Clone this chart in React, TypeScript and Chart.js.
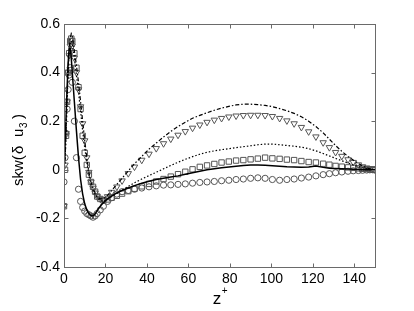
import React, { useEffect, useRef } from "react";
import { Chart } from "chart.js/auto";

const Z = [0, 0.5, 1, 1.5, 2, 2.5, 3, 3.5, 4, 5, 6, 7, 8, 9, 10, 11, 12, 13, 14, 15, 16, 17.5, 19, 21, 23, 25.5, 28, 31, 34, 37.5, 41, 44.5, 48, 51.5, 55, 58.5, 62, 65.5, 69, 72.5, 76, 79.5, 83, 86.5, 90, 93.5, 97, 100.5, 104, 107.5, 111, 114.5, 118, 121.5, 125, 128, 131, 134, 137, 139.5, 142, 144, 146, 147.5, 149, 150];

const solidLine = [0, 0.1, 0.22, 0.34, 0.44, 0.5, 0.5, 0.46, 0.4,
  0.28, 0.16, 0.05, -0.04, -0.1, -0.14, -0.165, -0.18, -0.188, -0.19, -0.182, -0.168,
  -0.15, -0.135,
  -0.12, -0.108, -0.095, -0.085, -0.075, -0.065, -0.055,
  -0.047, -0.04, -0.035, -0.03, -0.025, -0.018, -0.012, -0.006, 0.0, 0.004, 0.008, 0.012, 0.015, 0.018, 0.02, 0.02, 0.019, 0.017, 0.015, 0.013, 0.012, 0.01, 0.012, 0.016, 0.01,
  0.006, 0.005, 0.004, 0.003, 0.002, 0.001, 0, 0, 0, 0, 0];

const dashDotLine = [0, 0.03, 0.16, 0.3, 0.42, 0.5, 0.54, 0.56, 0.55,
  0.49, 0.43, 0.36, 0.28, 0.2, 0.12, 0.05, -0.01, -0.05, -0.075, -0.095, -0.11,
  -0.12, -0.12,
  -0.105, -0.085, -0.06, -0.035, -0.005, 0.025, 0.055,
  0.085, 0.11, 0.135, 0.158, 0.178, 0.196, 0.212, 0.224, 0.235, 0.245, 0.254, 0.261, 0.267, 0.27, 0.27, 0.268, 0.265, 0.26, 0.252, 0.243, 0.232, 0.218, 0.2, 0.178, 0.152,
  0.126, 0.1, 0.076, 0.055, 0.04, 0.026, 0.016, 0.008, 0.004, 0.001, 0];

const dottedLine = [0, 0.03, 0.15, 0.28, 0.4, 0.48, 0.52, 0.53, 0.52,
  0.46, 0.39, 0.32, 0.24, 0.16, 0.09, 0.03, -0.02, -0.06, -0.085, -0.1, -0.115,
  -0.125, -0.13,
  -0.12, -0.11, -0.097, -0.083, -0.068, -0.053, -0.038,
  -0.024, -0.01, 0.004, 0.018, 0.031, 0.043, 0.054, 0.064, 0.072, 0.078, 0.083, 0.087, 0.091, 0.095, 0.099, 0.103, 0.106, 0.106, 0.103, 0.1, 0.097, 0.093, 0.087, 0.078, 0.067,
  0.057, 0.047, 0.037, 0.028, 0.02, 0.013, 0.008, 0.005, 0.003, 0.001, 0];

const triangles = [-0.15, 0.02, 0.15, 0.28, 0.4, 0.47, 0.51, 0.52, 0.51,
  0.46, 0.4, 0.33, 0.26, 0.19, 0.12, 0.05, -0.01, -0.05, -0.075, -0.095, -0.11,
  -0.12, -0.125,
  -0.11, -0.092, -0.07, -0.045, -0.015, 0.012, 0.04,
  0.065, 0.088, 0.108, 0.127, 0.143, 0.158, 0.172, 0.185, 0.196, 0.205, 0.212, 0.218, 0.222, 0.224, 0.225, 0.225, 0.224, 0.22, 0.212, 0.202, 0.19, 0.175, 0.157, 0.136, 0.112,
  0.092, 0.072, 0.056, 0.042, 0.031, 0.021, 0.013, 0.008, 0.004, 0.002, 0];

const squares = [-0.15, 0.0, 0.14, 0.28, 0.4, 0.48, 0.53, 0.54, 0.53,
  0.48, 0.42, 0.34, 0.25, 0.14, 0.07, 0.02, -0.02, -0.05, -0.07, -0.09, -0.11,
  -0.12, -0.125,
  -0.122, -0.115, -0.107, -0.098, -0.088, -0.078, -0.068,
  -0.058, -0.048, -0.038, -0.028, -0.018, -0.008, 0.002, 0.012, 0.018, 0.024, 0.03, 0.034, 0.038, 0.04, 0.043, 0.046, 0.05, 0.047, 0.045, 0.042, 0.04, 0.036, 0.032, 0.03, 0.025,
  0.021, 0.016, 0.013, 0.01, 0.008, 0.006, 0.004, 0.003, 0.002, 0.001, 0];

const circles = [-0.05, 0.05, 0.15, 0.25, 0.33, 0.39, 0.42, 0.41, 0.36,
  0.2, 0.05, -0.08, -0.13, -0.155, -0.17, -0.18, -0.185, -0.19, -0.195, -0.19, -0.18,
  -0.165, -0.15,
  -0.13, -0.115, -0.1, -0.09, -0.085, -0.08, -0.075,
  -0.07, -0.066, -0.063, -0.062, -0.06, -0.058, -0.055, -0.052, -0.05, -0.048, -0.045, -0.043, -0.04, -0.038, -0.035, -0.033, -0.035, -0.04, -0.043, -0.04, -0.038, -0.034, -0.03, -0.025, -0.02,
  -0.016, -0.012, -0.009, -0.006, -0.004, -0.003, -0.002, -0.001, 0, 0, 0];

const X_TICKS = [0, 20, 40, 60, 80, 100, 120, 140];
const Y_TICKS = [-0.4, -0.2, 0, 0.2, 0.4, 0.6];

const FONT = '"Liberation Sans", Arial, sans-serif';

const pts = (vals: number[]) => Z.map((z, i) => ({ x: z, y: vals[i] }));

const framePlugin = {
  id: "frame",
  afterDraw(chart: any) {
    const { ctx, chartArea: a, scales } = chart;
    const xs = scales.x;
    const ys = scales.y;
    ctx.save();
    ctx.strokeStyle = "#6a6a6a";
    ctx.lineWidth = 1;
    const L = Math.round(a.left) + 0.5;
    const R = Math.round(a.right) + 0.5;
    const T = Math.round(a.top) + 0.5;
    const B = Math.round(a.bottom) + 0.5;
    ctx.strokeRect(L, T, R - L, B - T);
    ctx.beginPath();
    const tl = 4;
    X_TICKS.forEach((v) => {
      const px = Math.round(xs.getPixelForValue(v)) + 0.5;
      ctx.moveTo(px, B);
      ctx.lineTo(px, B - tl);
      ctx.moveTo(px, T);
      ctx.lineTo(px, T + tl);
    });
    Y_TICKS.forEach((v) => {
      const py = Math.round(ys.getPixelForValue(v)) + 0.5;
      ctx.moveTo(L, py);
      ctx.lineTo(L + tl, py);
      ctx.moveTo(R, py);
      ctx.lineTo(R - tl, py);
    });
    ctx.stroke();

    // axis titles
    ctx.fillStyle = "#000";
    ctx.textBaseline = "alphabetic";
    ctx.textAlign = "left";
    // x title: z with superscript +
    ctx.font = `17px ${FONT}`;
    const zw = ctx.measureText("z").width;
    const cx = (a.left + a.right) / 2;
    const sx = cx - (zw + 5) / 2;
    ctx.fillText("z", sx, 304);
    ctx.font = `10px ${FONT}`;
    ctx.fillText("+", sx + zw + 0.5, 294);

    // y title: skw(δ u3) rotated
    ctx.translate(23, 186);
    ctx.rotate(-Math.PI / 2);
    ctx.font = `15px ${FONT}`;
    ctx.fillText("skw(", 0, 0);
    ctx.fillText("δ", 32, 0);
    ctx.fillText("u", 49, 0);
    ctx.font = `10px ${FONT}`;
    ctx.fillText("3", 58, 4);
    ctx.font = `15px ${FONT}`;
    ctx.fillText(")", 67, 0);
    ctx.restore();
  },
};

export default function App() {
  const ref = useRef<HTMLCanvasElement>(null);
  useEffect(() => {
    if (!ref.current) return;
    const markerColor = "#555";
    const chart = new Chart(ref.current, {
      type: "scatter",
      data: {
        datasets: [
          {
            label: "solid",
            data: pts(solidLine),
            showLine: true,
            borderColor: "#000",
            borderWidth: 1.5,
            pointRadius: 0,
          },
          {
            label: "dash-dot",
            data: pts(dashDotLine),
            showLine: true,
            borderColor: "#000",
            borderWidth: 1.2,
            borderDash: [4, 2, 1.5, 2],
            pointRadius: 0,
          },
          {
            label: "dotted",
            data: pts(dottedLine),
            showLine: true,
            borderColor: "#000",
            borderWidth: 1.2,
            borderDash: [1.5, 2],
            pointRadius: 0,
          },
          {
            label: "circles",
            data: pts(circles),
            showLine: false,
            pointStyle: "circle",
            pointRadius: 3.1,
            borderColor: markerColor,
            backgroundColor: "rgba(0,0,0,0)",
            borderWidth: 1,
          },
          {
            label: "squares",
            data: pts(squares),
            showLine: false,
            pointStyle: "rect",
            pointRadius: 3.8,
            borderColor: markerColor,
            backgroundColor: "rgba(0,0,0,0)",
            borderWidth: 1,
          },
          {
            label: "triangles",
            data: pts(triangles),
            showLine: false,
            pointStyle: "triangle",
            rotation: 180,
            pointRadius: 3.7,
            borderColor: markerColor,
            backgroundColor: "rgba(0,0,0,0)",
            borderWidth: 1,
          },
        ],
      },
      options: {
        animation: false,
        responsive: false,
        maintainAspectRatio: false,
        layout: { padding: { left: 0, right: 39, top: 24, bottom: 0 } },
        plugins: {
          legend: { display: false },
          tooltip: { enabled: false },
        },
        scales: {
          x: {
            type: "linear",
            min: 0,
            max: 150,
            grid: { display: false, drawTicks: false },
            border: { display: false },
            afterFit: (s: any) => {
              s.height = 44;
            },
            afterBuildTicks: (s: any) => {
              s.ticks = X_TICKS.map((v) => ({ value: v }));
            },
            ticks: {
              color: "#000",
              padding: 4,
              font: { family: FONT, size: 14 },
              maxRotation: 0,
              callback: (v: any) => String(v),
            },
          },
          y: {
            type: "linear",
            min: -0.4,
            max: 0.6,
            grid: { display: false, drawTicks: false },
            border: { display: false },
            afterFit: (s: any) => {
              s.width = 64;
            },
            afterBuildTicks: (s: any) => {
              s.ticks = Y_TICKS.map((v) => ({ value: v }));
            },
            ticks: {
              color: "#000",
              padding: 4,
              font: { family: FONT, size: 14 },
              callback: (v: any) => (Math.abs(v) < 1e-9 ? "0" : String(Math.round(v * 10) / 10)),
            },
          },
        },
      },
      plugins: [framePlugin],
    });
    return () => chart.destroy();
  }, []);
  return (
    <div style={{ position: "fixed", left: 0, top: 0, width: 414, height: 311, background: "#fff" }}>
      <canvas ref={ref} width={414} height={311} style={{ width: 414, height: 311 }} />
    </div>
  );
}
